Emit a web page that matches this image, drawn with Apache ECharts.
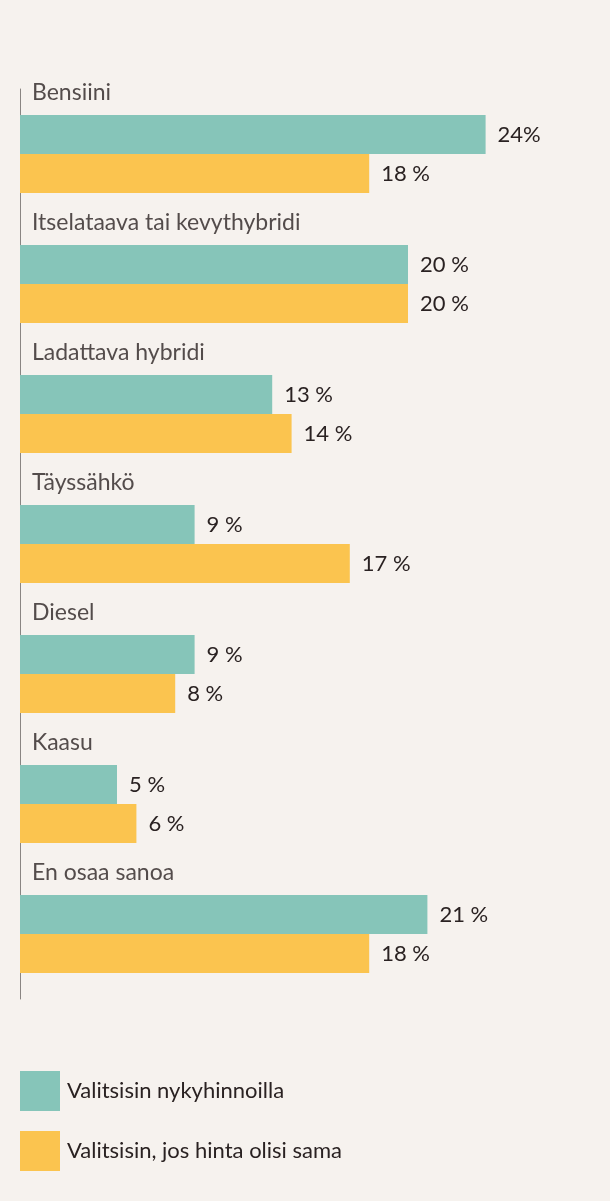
<!DOCTYPE html>
<html><head><meta charset="utf-8">
<script src="https://cdn.jsdelivr.net/npm/echarts@6/dist/echarts.min.js"></script>
<style>html,body{margin:0;padding:0;background:#f6f2ee}#c{width:610px;height:1201px}</style>
</head><body><div id="c"></div>
<script>
const categories = ["Bensiini","Itselataava tai kevythybridi","Ladattava hybridi","Täyssähkö","Diesel","Kaasu","En osaa sanoa"];
const nykyhinnoilla = [24,20,13,9,9,5,21];
const samaHinta = [18,20,14,17,8,6,18];
const nykyLabels = ["24%","20 %","13 %","9 %","9 %","5 %","21 %"];
const samaLabels = ["18 %","20 %","14 %","17 %","8 %","6 %","18 %"];
const seriesNames = ["Valitsisin nykyhinnoilla","Valitsisin, jos hinta olisi sama"];
const font = "Lato";
const chart = echarts.init(document.getElementById('c'));
function lbl(arr){return {show:true,position:'right',distance:12,fontSize:22,color:'#2a2222',fontFamily:font,formatter:p=>arr[p.dataIndex]};}
chart.setOption({
  backgroundColor:'#f6f2ee',
  animation:false,
  grid:{left:20,top:89,width:582,height:910},
  xAxis:{type:'value',min:0,max:30,show:false},
  yAxis:{type:'category',data:categories,inverse:true,
    axisLine:{show:true,lineStyle:{color:'#8a8582',width:1}},axisTick:{show:false},axisLabel:{show:false}},
  legend:{orient:'vertical',left:20,top:1071,padding:0,itemWidth:40,itemHeight:40,itemGap:20,icon:'rect',
    data:seriesNames,
    textStyle:{fontSize:22,color:'#2a2222',fontFamily:font,padding:[0,0,0,2]}},
  series:[
    {name:seriesNames[0],type:'bar',data:nykyhinnoilla,barWidth:39,barGap:'0%',itemStyle:{color:'#86c5b9'},label:lbl(nykyLabels)},
    {name:seriesNames[1],type:'bar',data:samaHinta,barWidth:39,itemStyle:{color:'#fbc44f'},label:lbl(samaLabels)},
    {name:'cat',type:'scatter',symbolSize:0,silent:true,data:categories.map(c=>[0,c]),
      label:{show:true,position:'right',distance:0,offset:[12,-61],fontSize:23,color:'#2a2222',fontFamily:font,formatter:p=>p.data[1]}}
  ]
});
</script></body></html>
